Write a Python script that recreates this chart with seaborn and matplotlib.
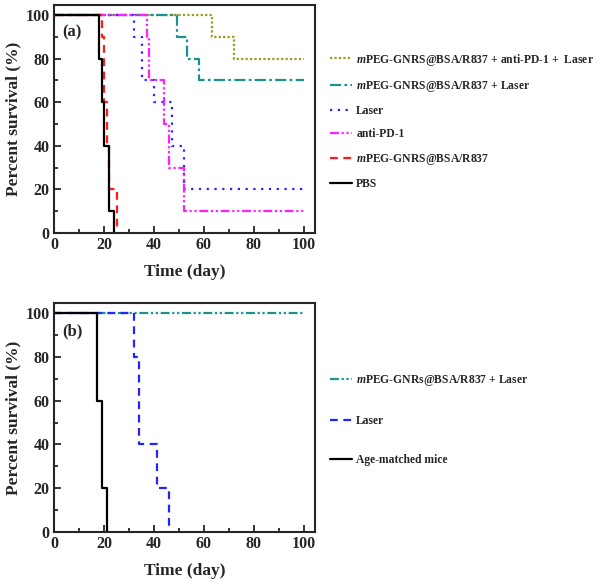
import matplotlib
matplotlib.use('Agg')
import matplotlib.pyplot as plt
from matplotlib.ticker import MultipleLocator
import seaborn as sns
import pandas as pd

# panel (a) step data: day, percent survival
combo_t = [0, 63, 72, 100]
combo_s = [100, 90, 80, 80]
nano_laser_t = [0, 49, 53, 58, 100]
nano_laser_s = [100, 90, 80, 70, 70]
laser_t = [0, 32, 35, 40, 47, 52, 100]
laser_s = [100, 90, 70, 60, 40, 20, 20]
pd1_t = [0, 37, 38, 44, 46, 52, 100]
pd1_s = [100, 90, 70, 50, 30, 10, 10]
nano_t = [0, 19, 20, 21, 22, 25]
nano_s = [100, 90, 60, 40, 20, 0]
pbs_t = [0, 18, 19, 20, 22, 24]
pbs_s = [100, 80, 60, 40, 10, 0]

# panel (b)
b_nano_laser_t = [0, 100]
b_nano_laser_s = [100, 100]
b_laser_t = [0, 32, 34, 41, 46]
b_laser_s = [100, 80, 40, 20, 0]
b_age_t = [0, 17, 19, 21]
b_age_s = [100, 60, 20, 0]

M = r'$\mathit{m}$'
series_a = [
    (M + 'PEG-GNRS@BSA/R837 + anti-PD-1 +  Laser', combo_t, combo_s, '#9c9a1c', (0, (1, 1))),
    (M + 'PEG-GNRS@BSA/R837 + Laser', nano_laser_t, nano_laser_s, '#1a9090', (0, (5, 1.5, 1.2, 1.5))),
    ('Laser', laser_t, laser_s, '#2323ff', (0, (1, 2.5))),
    ('anti-PD-1', pd1_t, pd1_s, '#ff20ff', (0, (4, 1.2, 1, 1.2, 1, 1.2))),
    (M + 'PEG-GNRS@BSA/R837', nano_t, nano_s, '#ff1a1a', (0, (3.5, 2.5))),
    ('PBS', pbs_t, pbs_s, 'black', '-'),
]
series_b = [
    (M + 'PEG-GNRs@BSA/R837 + Laser', b_nano_laser_t, b_nano_laser_s, '#1a9090', (0, (4, 1.2, 1, 1.2, 1, 1.2))),
    ('Laser', b_laser_t, b_laser_s, '#2323ff', (0, (3.5, 2.5))),
    ('Age-matched mice', b_age_t, b_age_s, 'black', '-'),
]

sns.set_style('ticks')
plt.rcParams['font.family'] = ['Liberation Serif', 'DejaVu Serif']
plt.rcParams['font.weight'] = 'bold'
plt.rcParams['mathtext.fontset'] = 'custom'
plt.rcParams['mathtext.it'] = 'Liberation Serif:italic:bold'
plt.rcParams['mathtext.rm'] = 'Liberation Serif:bold'

fig = plt.figure(figsize=(6, 5.79), dpi=100)
ax_a = fig.add_axes([0.09, 0.5976, 0.435, 0.394])
ax_b = fig.add_axes([0.09, 0.0812, 0.435, 0.3955])


def draw_panel(ax, series, tag, legend_y, spacing):
    for label, t, s, color, ls in series:
        df = pd.DataFrame({'day': t, 'survival': s})
        sns.lineplot(data=df, x='day', y='survival', ax=ax, color=color,
                     linestyle=ls, linewidth=1.6, drawstyle='steps-post',
                     estimator=None, sort=False, label=label)
    ax.set_xlim(0, 104.4)
    ax.set_ylim(0, 104.6)
    ax.xaxis.set_major_locator(MultipleLocator(20))
    ax.xaxis.set_minor_locator(MultipleLocator(10))
    ax.yaxis.set_major_locator(MultipleLocator(20))
    ax.yaxis.set_minor_locator(MultipleLocator(10))
    ax.tick_params(which='both', direction='in', top=False, right=False,
                   labelsize=11.5, width=1.3, pad=3)
    ax.tick_params(which='major', length=5)
    ax.tick_params(which='minor', length=3)
    for lab in ax.get_xticklabels() + ax.get_yticklabels():
        lab.set_fontweight('bold')
    for sp in ax.spines.values():
        sp.set_linewidth(1.5)
        sp.set_visible(True)
    ax.set_xlabel('Time (day)', fontsize=12.5, fontweight='bold', labelpad=8)
    ax.set_ylabel('Percent survival (%)', fontsize=12.5, fontweight='bold', labelpad=3)
    ax.text(0.03, 0.86, tag, transform=ax.transAxes, fontsize=12, fontweight='bold')
    ax.legend(loc='upper left', bbox_to_anchor=(319 / 600, legend_y),
              bbox_transform=fig.transFigure, frameon=False,
              prop={'family': 'Liberation Serif', 'weight': 'bold', 'size': 8.4},
              handlelength=1.9, handletextpad=0.4, labelspacing=spacing)


draw_panel(ax_a, series_a, '(a)', 1 - 41 / 579, 0.97)
draw_panel(ax_b, series_b, '(b)', 1 - 363 / 579, 2.3)

fig.savefig('out.png', dpi=100)
